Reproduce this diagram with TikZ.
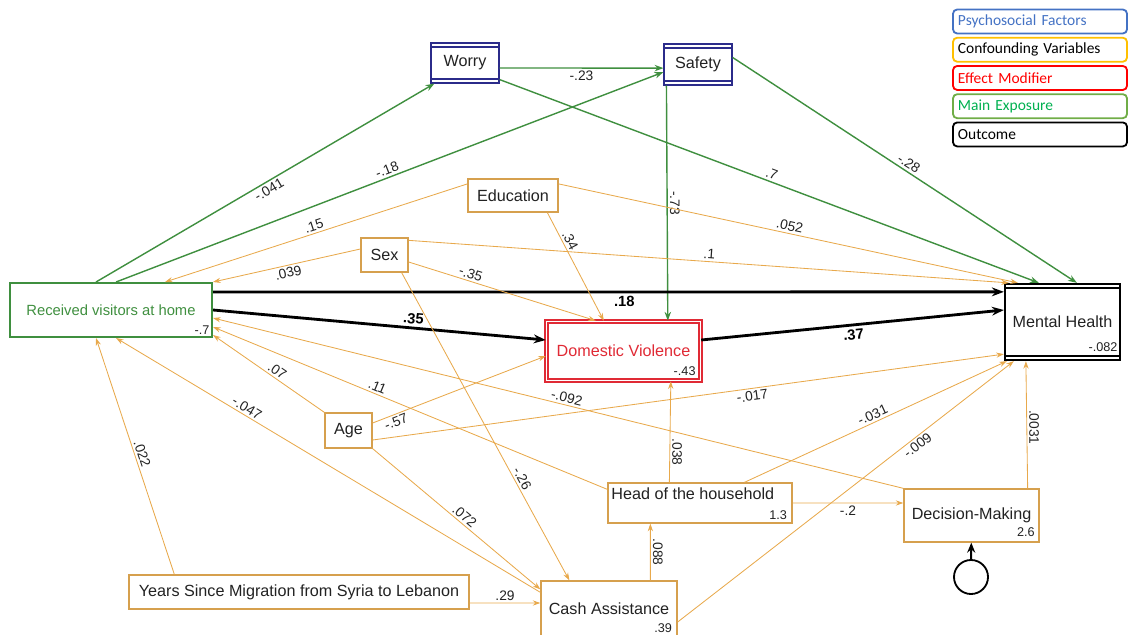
\documentclass[tikz,border=0pt]{standalone}
\usepackage{fontspec}
\setmainfont{Liberation Sans}
\newfontfamily\keyfont{Carlito}
\usepackage{xcolor}
\usetikzlibrary{arrows.meta, positioning}
\definecolor{semgreen}{HTML}{3F8F3F}
\definecolor{semorange}{HTML}{E8A94C}
\definecolor{semtan}{HTML}{D6A04E}
\definecolor{semnavy}{HTML}{2B2B8A}
\definecolor{semred}{HTML}{E02A35}
\definecolor{textgray}{HTML}{222222}
\definecolor{legblue}{HTML}{4472C4}
\definecolor{leggold}{HTML}{FFC000}
\definecolor{legred}{HTML}{FF0000}
\definecolor{leggreen}{HTML}{70AD47}
\definecolor{legtext}{HTML}{00B050}

\begin{document}
\begin{tikzpicture}[
    x=0.025cm, y=-0.025cm,
    varbox/.style={draw=semtan, line width=0.9pt, inner sep=1pt, text=textgray, font=\fontsize{11.5}{13}\selectfont},
    barred/.style={path picture={
        \draw[#1] ([yshift=-0.1cm]path picture bounding box.north west) -- ([yshift=-0.1cm]path picture bounding box.north east)
                  ([yshift=0.1cm]path picture bounding box.south west) -- ([yshift=0.1cm]path picture bounding box.south east);}},
    est/.style={font=\fontsize{9}{10}\selectfont, text=textgray, inner sep=1pt},
    coef/.style={font=\fontsize{9.8}{11}\selectfont, text=textgray, inner sep=1.5pt, sloped},
    bcoef/.style={font=\fontsize{10.5}{12}\bfseries\selectfont, inner sep=2pt, sloped},
    vcoef/.style={font=\fontsize{9.8}{11}\selectfont, text=textgray, inner sep=1.5pt, rotate=-90, anchor=south},
    expo/.style={draw=semgreen, line width=1pt, -{Stealth[length=2.2mm, width=1.6mm]}},
    conf/.style={draw=semorange, line width=0.6pt, -{Stealth[length=1.9mm, width=1.3mm]}},
    mainpath/.style={draw=black, line width=2pt, -{Stealth[length=3mm, width=2.2mm]}},
    keybox/.style={draw, rounded corners=3pt, line width=1.3pt, minimum width=4.35cm, minimum height=0.6cm,
        text width=4.1cm, align=left, inner xsep=0.12cm, inner ysep=0pt, font=\keyfont\fontsize{11}{13}\selectfont},
]
\useasboundingbox (0,0) rectangle (1128,635);

% Variables
\node[varbox, draw=semgreen, line width=1.4pt, text=semgreen, font=\fontsize{10.5}{12}\selectfont,
      minimum width=5.05cm, minimum height=1.35cm] (rv) at (111,310) {Received visitors at home};
\node[varbox, draw=semnavy, line width=0.8pt, barred={semnavy, line width=0.8pt},
      minimum width=1.7cm, minimum height=1cm] (worry) at (465,63) {Worry};
\node[varbox, draw=semnavy, line width=0.8pt, barred={semnavy, line width=0.8pt},
      minimum width=1.7cm, minimum height=1.025cm] (safety) at (698,64.5) {Safety};
\node[varbox, minimum width=2.25cm, minimum height=0.825cm] (edu) at (513,195.5) {Education};
\node[varbox, minimum width=1.175cm, minimum height=0.85cm] (sex) at (384.5,255) {Sex};
\node[varbox, minimum width=1.175cm, minimum height=0.875cm] (age) at (348.5,430.5) {Age};
\node[varbox, draw=semred, double=white, double distance=1.2pt, line width=1pt, text=semred,
      minimum width=3.85cm, minimum height=1.48cm] (dv) at (623.5,351) {Domestic Violence};
\node[varbox, draw=black, line width=1.6pt, barred={black, line width=1.2pt},
      minimum width=2.875cm, minimum height=1.9cm] (mh) at (1062.5,322) {Mental Health};
\node[varbox, minimum width=4.6cm, minimum height=1cm] (head) at (700,503) {};
\node[varbox, draw=none, anchor=north west] (head-t) at ([xshift=0.05cm, yshift=-0.08cm]head.north west) {Head of the household};
\node[varbox, minimum width=3.375cm, minimum height=1.325cm] (dec) at (971.5,515.5) {Decision-Making};
\node[varbox, minimum width=8.5cm, minimum height=0.85cm] (years) at (299,592) {Years Since Migration from Syria to Lebanon};
\node[varbox, minimum width=3.4cm, minimum height=1.375cm] (cash) at (609,608.5) {Cash Assistance};
\node[draw, circle, minimum size=0.85cm, inner sep=0pt, line width=1.3pt] (err) at (971,577) {};

% Residual estimates
\node[est, anchor=south east] (rv-e) at ([xshift=-0.05cm, yshift=0.05cm]rv.south east) {-.7};
\node[est, anchor=south east] (dv-e) at ([xshift=-0.1cm, yshift=0.1cm]dv.south east) {-.43};
\node[est, anchor=south east] (mh-e) at ([xshift=-0.05cm, yshift=0.2cm]mh.south east) {-.082};
\node[est, anchor=south east] (head-e) at ([xshift=-0.1cm, yshift=0.05cm]head.south east) {1.3};
\node[est, anchor=south east] (dec-e) at ([xshift=-0.08cm, yshift=0.1cm]dec.south east) {2.6};
\node[est, anchor=south east] (cash-e) at ([xshift=-0.1cm, yshift=0.05cm]cash.south east) {.39};

% Psychosocial paths
\draw[expo] ([xshift=2.175cm]rv.north west) -- node[coef, below] {-.041} ([xshift=0.1cm]worry.south west);
\draw[expo] ([xshift=2.675cm]rv.north west) -- node[coef, above] {-.18} ([yshift=-0.19cm]safety.west);
\draw[expo] ([yshift=-0.125cm]worry.east) -- node[coef, below] {-.23} ([yshift=-0.09cm]safety.west);
\draw[expo] ([yshift=0.1cm]worry.south east) -- node[coef, above] {.7} ([xshift=0.875cm]mh.north west);
\draw[expo] ([yshift=-0.35cm]safety.north east) -- node[coef, above] {-.28} ([xshift=1.825cm]mh.north west);
\draw[expo] ([xshift=0.075cm]safety.south west) -- node[vcoef] {-.73} ([xshift=3.05cm]dv.north west);

% Main paths
\draw[mainpath] ([yshift=-0.25cm]rv.north east) -- node[bcoef, below, pos=0.52] {.18} ([yshift=-0.225cm]mh.north west);
\draw[mainpath] (rv.east) -- node[bcoef, above, pos=0.6] {.35} ([yshift=0.275cm]dv.west);
\draw[mainpath] ([yshift=0.275cm]dv.east) -- node[bcoef, below] {.37} ([yshift=0.3cm]mh.west);

% Confounders
\draw[conf] ([yshift=0.29cm]edu.west) -- node[coef, above] {.15} ([xshift=3.9cm]rv.north west);
\draw[conf] ([yshift=0.29cm]edu.east) -- node[coef, above] {.052} ([xshift=0.35cm]mh.north west);
\draw[conf] ([xshift=2cm]edu.south west) -- node[coef, above, pos=0.29] {.34} ([xshift=1.45cm]dv.north west);
\draw[conf] ([yshift=0.15cm]sex.west) -- node[coef, below] {.039} (rv.north east);
\draw[conf] ([yshift=-0.075cm]sex.north east) -- node[coef, above] {.1} ([xshift=0.125cm]mh.north west);
\draw[conf] ([yshift=-0.175cm]sex.east) -- node[coef, above, pos=0.32] {-.35} ([xshift=1.25cm]dv.north west);
\draw[conf] ([xshift=-0.175cm]sex.south east) -- node[coef, above, pos=0.68] {-.26} ([xshift=0.725cm]cash.north west);
\draw[conf] (age.north west) -- node[coef, above, pos=0.46] {.07} ([yshift=0.075cm]rv.south east);
\draw[conf] ([yshift=0.1875cm]age.east) -- node[coef, below, pos=0.12] {-.57} ([yshift=-0.125cm]dv.west);
\draw[conf] ([yshift=-0.2375cm]age.east) -- node[coef, below, pos=0.6] {-.017} ([yshift=0.175cm]mh.south west);
\draw[conf] (age.south east) -- node[coef, above, pos=0.52] {.072} ([yshift=-0.225cm]cash.north west);
\draw[conf] ([yshift=-0.175cm]head.north west) -- node[coef, above, pos=0.59] {.11} ([yshift=0.275cm]rv.south east);
\draw[conf] (dec.north west) -- node[coef, above, pos=0.49] {-.092} ([yshift=-0.2cm]rv.east);
\draw[conf] ([yshift=-0.3cm]cash.north west) -- node[coef, above, pos=0.7] {-.047} ([xshift=2.675cm]rv.south west);
\draw[conf] ([xshift=1.15cm]years.north west) -- node[coef, above] {.022} ([xshift=2.175cm]rv.south west);
\draw[conf] ([yshift=-0.275cm]years.east) -- node[coef, above] {.29} ([yshift=0.1375cm]cash.west);
\draw[conf] ([xshift=2.75cm]cash.north west) -- node[vcoef] {.088} ([xshift=1.075cm]head.south west);
\draw[conf] ([xshift=1.55cm]head.north west) -- node[vcoef, pos=0.3] {.038} ([xshift=3.125cm]dv.south west);
\draw[conf] ([xshift=3.425cm]head.north west) -- node[coef, above] {-.031} ([xshift=0.075cm]mh.south west);
\draw[conf] ([yshift=-0.3375cm]cash.east) -- node[coef, below, pos=0.7] {-.009} ([xshift=0.25cm]mh.south west);
\draw[conf] (head.east) -- node[coef, below] {-.2} ([yshift=0.3125cm]dec.west);
\draw[conf] ([xshift=-0.3cm]dec.north east) -- node[vcoef, pos=0.48] {.0031} ([xshift=0.55cm]mh.south west);

% Error term
\draw[line width=1.4pt, -{Stealth[length=2.5mm, width=2mm]}] (err) -- (dec);

% Legend
\node[keybox, draw=legblue, text=legblue] (k-psy) at (1040,21.5) {Psychosocial Factors};
\node[keybox, draw=leggold, text=black, below=0.06cm of k-psy] (k-conf) {Confounding Variables};
\node[keybox, draw=legred, text=legred, below=0.06cm of k-conf] (k-mod) {Effect Modifier};
\node[keybox, draw=leggreen, text=legtext, below=0.06cm of k-mod] (k-exp) {Main Exposure};
\node[keybox, draw=black, text=black, below=0.06cm of k-exp] (k-out) {Outcome};

\end{tikzpicture}
\end{document}
